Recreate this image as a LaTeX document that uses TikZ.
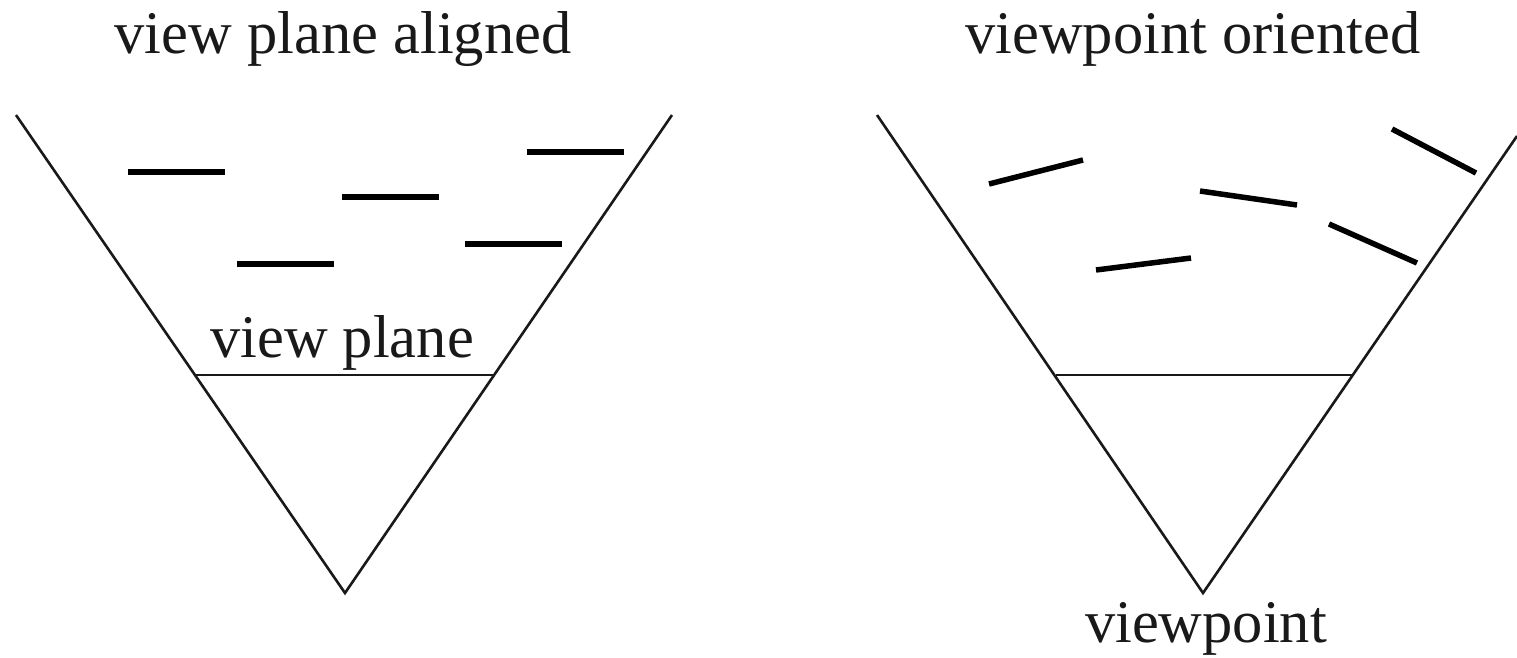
\documentclass[tikz,border=0pt]{standalone}
\usepackage{fontspec}
\setmainfont{Liberation Serif}
\begin{document}
\begin{tikzpicture}[x=1pt,y=-1pt,
  lbl/.style={anchor=base,inner sep=0pt,font=\fontsize{60.5}{70}\selectfont,text=black!90},
  frustum/.style={draw=black!90,line width=2.6pt,line join=miter},
  vplane/.style={draw=black!90,line width=2.8pt},
  obj/.style={draw=black,line width=5.5pt}]
\useasboundingbox (0,0) rectangle (1517,657);
% left frustum
\coordinate (LTL) at (16,115);
\coordinate (LA) at (345,593);
\coordinate (LTR) at (672,115);
\draw[frustum] (LTL) -- (LA) -- (LTR);
\draw[vplane] (196,375) coordinate (lvp1) -- (495,375) coordinate (lvp2);
% right frustum
\coordinate (RTL) at (877,115);
\coordinate (RA) at (1203,593);
\coordinate (RTR) at (1517,136);
\draw[frustum] (RTL) -- (RA) -- (RTR);
\draw[vplane] (1056,375) coordinate (rvp1) -- (1353,375) coordinate (rvp2);
% objects, left
\draw[obj] (128,172) coordinate (a1) -- (225,172) coordinate (a2);
\draw[obj] (342,197) coordinate (b1) -- (439,197) coordinate (b2);
\draw[obj] (237,264) coordinate (c1) -- (334,264) coordinate (c2);
\draw[obj] (527,152) coordinate (d1) -- (624,152) coordinate (d2);
\draw[obj] (465,244) coordinate (e1) -- (562,244) coordinate (e2);
% objects, right
\draw[obj] (989,184) coordinate (f1) -- (1083,160) coordinate (f2);
\draw[obj] (1200,191) coordinate (g1) -- (1297,205) coordinate (g2);
\draw[obj] (1096,270) coordinate (h1) -- (1191,258) coordinate (h2);
\draw[obj] (1392,129) coordinate (i1) -- (1476,173) coordinate (i2);
\draw[obj] (1329,224) coordinate (j1) -- (1417,263) coordinate (j2);
% labels
\node[lbl] (t1) at (343,53) {view plane aligned};
\node[lbl] (t2) at (1193,53) {viewpoint oriented};
\node[lbl] (t3) at (342,357) {view plane};
\node[lbl] (t4) at (1206,642) {viewpoint};
\end{tikzpicture}
\end{document}
